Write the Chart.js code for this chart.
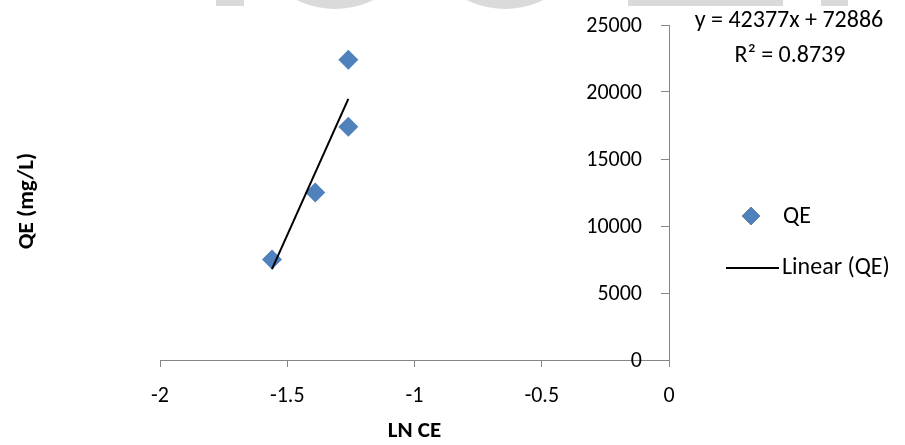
<!DOCTYPE html>
<html>
<head>
<meta charset="utf-8">
<script src="https://cdn.jsdelivr.net/npm/chart.js@4.4.0/dist/chart.umd.min.js"></script>
<style>
  html, body { margin: 0; padding: 0; background: #fff; }
  #wrap { position: relative; width: 905px; height: 445px; }
</style>
</head>
<body>
<div id="wrap"><canvas id="c" width="905" height="445"></canvas></div>
<script>
// data
const lnCE = [-1.56, -1.39, -1.26, -1.26];
const qe = [7500, 12500, 17400, 22400];
// trendline as printed on the chart
const trendSlope = 42377;
const trendIntercept = 72886;
const trendText = ['y = 42377x + 72886', 'R\u00B2 = 0.8739'];
const xTicks = [-2, -1.5, -1, -0.5, 0];
const yTicks = [0, 5000, 10000, 15000, 20000, 25000];

const FONT = 'Carlito, Calibri, Lato, sans-serif';
const BLUE = '#4F81BD';
const AXIS = '#868686';

const trendX = [Math.min(...lnCE), Math.max(...lnCE)];

// light grey watermark cut off at the top edge
const watermark = {
  id: 'watermark',
  beforeDraw(chart) {
    const ctx = chart.ctx;
    ctx.save();
    ctx.fillStyle = '#dadada';
    ctx.fillRect(216, 0, 28, 6);
    ctx.fillRect(628, 0, 155, 6);
    ctx.fillRect(821, 0, 27, 6);
    ctx.beginPath();
    ctx.arc(335, -77, 86, 0, Math.PI);
    ctx.fill();
    ctx.beginPath();
    ctx.arc(505, -77, 86, 0, Math.PI);
    ctx.fill();
    ctx.restore();
  }
};

const extras = {
  id: 'extras',
  afterDraw(chart) {
    const ctx = chart.ctx;
    const y = chart.scales.y;
    ctx.save();
    ctx.fillStyle = '#000';
    ctx.textBaseline = 'middle';

    // y tick labels sit left of the axis that crosses at x = 0
    ctx.font = '22px ' + FONT;
    ctx.textAlign = 'right';
    y.ticks.forEach(t => ctx.fillText(String(t.value), 642, y.getPixelForValue(t.value) + 1));

    // y axis title
    ctx.save();
    ctx.translate(27, 201);
    ctx.rotate(-Math.PI / 2);
    ctx.textAlign = 'center';
    ctx.font = 'bold 23px ' + FONT;
    ctx.fillText('QE (mg/L)', 0, 0);
    ctx.restore();

    // trendline equation
    ctx.font = '24px ' + FONT;
    ctx.textAlign = 'center';
    ctx.fillText(trendText[0], 789, 21);
    ctx.fillText(trendText[1], 790, 56);

    // legend
    const ds = chart.data.datasets;
    ctx.textAlign = 'left';
    Chart.helpers.drawPoint(ctx, { pointStyle: 'rectRot', radius: 9, borderWidth: 0 }, 751, 216);
    ctx.fillStyle = ds[0].backgroundColor;
    ctx.fill();
    ctx.fillStyle = '#000';
    ctx.font = '24px ' + FONT;
    ctx.fillText(ds[0].label, 783, 217);

    ctx.strokeStyle = ds[1].borderColor;
    ctx.lineWidth = ds[1].borderWidth;
    ctx.beginPath();
    ctx.moveTo(726, 268);
    ctx.lineTo(779, 268);
    ctx.stroke();
    ctx.fillText(ds[1].label, 782, 268);
    ctx.restore();
  }
};

new Chart(document.getElementById('c'), {
  type: 'scatter',
  data: {
    datasets: [
      {
        label: 'QE',
        data: lnCE.map((x, i) => ({ x: x, y: qe[i] })),
        pointStyle: 'rectRot',
        pointRadius: 10,
        backgroundColor: BLUE,
        borderColor: BLUE,
        borderWidth: 0,
        order: 2
      },
      {
        label: 'Linear (QE)',
        type: 'line',
        data: trendX.map(x => ({ x: x, y: trendSlope * x + trendIntercept })),
        borderColor: '#000',
        borderWidth: 2,
        pointRadius: 0,
        fill: false,
        order: 1
      }
    ]
  },
  options: {
    responsive: false,
    animation: false,
    layout: { padding: { left: 160, right: 236, top: 25, bottom: 0 } },
    plugins: { legend: { display: false }, tooltip: { enabled: false } },
    scales: {
      x: {
        type: 'linear',
        min: -2,
        max: 0,
        position: 'bottom',
        afterBuildTicks: s => { s.ticks = xTicks.map(v => ({ value: v })); },
        afterFit: s => { s.height = 85; },
        grid: { drawOnChartArea: false, color: AXIS, tickLength: 7 },
        border: { color: AXIS, width: 1 },
        ticks: { color: '#000', font: { family: FONT, size: 22 }, padding: 16, maxRotation: 0, callback: v => String(v) },
        title: { display: true, text: 'LN CE', color: '#000', font: { family: FONT, size: 23, weight: 'bold' }, padding: { top: 0, bottom: 0 } }
      },
      y: {
        type: 'linear',
        min: 0,
        max: 25000,
        position: { x: 0 },
        afterBuildTicks: s => { s.ticks = yTicks.map(v => ({ value: v })); },
        grid: { drawOnChartArea: false, color: AXIS, tickLength: 8 },
        border: { color: AXIS, width: 1 },
        ticks: { display: false }
      }
    }
  },
  plugins: [watermark, extras]
});
</script>
</body>
</html>
